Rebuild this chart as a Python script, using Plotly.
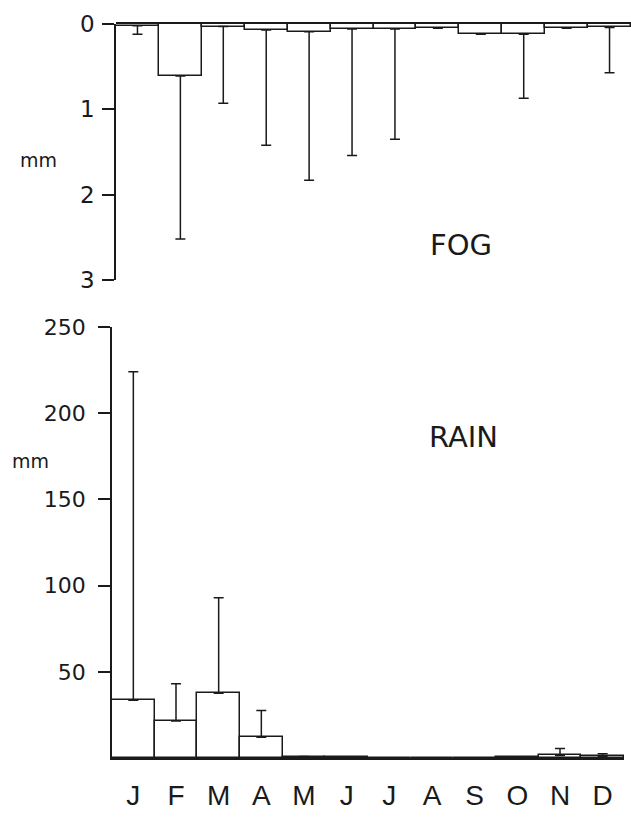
import plotly.graph_objects as go

months = ["J", "F", "M", "A", "M", "J", "J", "A", "S", "O", "N", "D"]
month_num = list(range(1, 13))

fog_mm = [0.02, 0.61, 0.03, 0.07, 0.09, 0.06, 0.06, 0.05, 0.12, 0.12, 0.05, 0.04]
fog_upper = [0.12, 2.52, 0.93, 1.42, 1.83, 1.54, 1.35, None, None, 0.87, None, 0.57]

rain_mm = [33.5, 21.5, 37.5, 12.0, 0.8, 0.5, 0.2, 0.1, 0.2, 0.6, 1.5, 1.0]
rain_upper = [224, 43, 93, 27.5, None, None, None, None, None, None, 5.5, 2.5]

fog_ticks = [0, 1, 2, 3]
rain_ticks = [50, 100, 150, 200, 250]


def plus(upper, vals):
    return [None if u is None else u - v for u, v in zip(upper, vals)]


ink = "#1a1a1a"
font = "DejaVu Sans"

fig = go.Figure()
fig.add_trace(go.Bar(
    x=month_num, y=fog_mm, xaxis="x", yaxis="y",
    marker=dict(color="white", line=dict(color=ink, width=1.5)),
    width=1.0,
    error_y=dict(type="data", symmetric=False, array=plus(fog_upper, fog_mm),
                 arrayminus=[0] * 12, color=ink, thickness=1.5, width=5),
    showlegend=False,
))
fig.add_trace(go.Bar(
    x=month_num, y=rain_mm, xaxis="x2", yaxis="y2",
    marker=dict(color="white", line=dict(color=ink, width=1.5)),
    width=1.0,
    error_y=dict(type="data", symmetric=False, array=plus(rain_upper, rain_mm),
                 arrayminus=[0] * 12, color=ink, thickness=1.5, width=5),
    showlegend=False,
))

H = 818.0
W = 631.0
fig.update_layout(
    width=631, height=818,
    margin=dict(l=0, r=0, t=0, b=0, autoexpand=False),
    paper_bgcolor="white", plot_bgcolor="white",
    bargap=0,
    font=dict(family=font, color=ink),
    xaxis=dict(domain=[116 / W, 1.0], range=[0.5, 12.5], anchor="y", side="top",
               showline=True, linecolor=ink, linewidth=1.5, showticklabels=False,
               ticks="", showgrid=False, zeroline=False, automargin=False),
    yaxis=dict(domain=[(H - 280) / H, (H - 24) / H], range=[3, 0], anchor="free",
               position=115 / W, showline=True, linecolor=ink, linewidth=1.5,
               ticks="outside", ticklen=12, tickwidth=1.5, tickcolor=ink,
               ticklabelstandoff=3,
               tickvals=fog_ticks, ticktext=[str(t) for t in fog_ticks],
               tickfont=dict(size=23, family=font), showgrid=False, zeroline=False,
               automargin=False),
    xaxis2=dict(domain=[112 / W, 624 / W], range=[0.5, 12.5], anchor="y2",
                showline=True, linecolor=ink, linewidth=1.5, ticks="",
                tickvals=month_num, ticktext=months, ticklabelstandoff=12,
                tickfont=dict(size=28, family="Liberation Sans"), showgrid=False,
                zeroline=False, automargin=False),
    yaxis2=dict(domain=[(H - 758) / H, (H - 327) / H], range=[0, 250], anchor="x2",
                showline=True, linecolor=ink, linewidth=1.5,
                ticks="outside", ticklen=12, tickwidth=1.5, tickcolor=ink,
                ticklabelstandoff=8,
                tickvals=rain_ticks, ticktext=[str(t) for t in rain_ticks],
                tickfont=dict(size=22, family=font), showgrid=False, zeroline=False,
                automargin=False),
    annotations=[
        dict(text="FOG", x=461 / W, y=(H - 245) / H, xref="paper", yref="paper",
             xanchor="center", yanchor="middle",
             showarrow=False, font=dict(size=29, family=font, color=ink)),
        dict(text="RAIN", x=463 / W, y=(H - 437) / H, xref="paper", yref="paper",
             xanchor="center", yanchor="middle",
             showarrow=False, font=dict(size=29, family=font, color=ink)),
        dict(text="mm", x=38 / W, y=(H - 160) / H, xref="paper", yref="paper",
             xanchor="center", yanchor="middle",
             showarrow=False, font=dict(size=19, family=font, color=ink)),
        dict(text="mm", x=30 / W, y=(H - 461) / H, xref="paper", yref="paper",
             xanchor="center", yanchor="middle",
             showarrow=False, font=dict(size=19, family=font, color=ink)),
    ],
)

fig.write_html("out.html")
